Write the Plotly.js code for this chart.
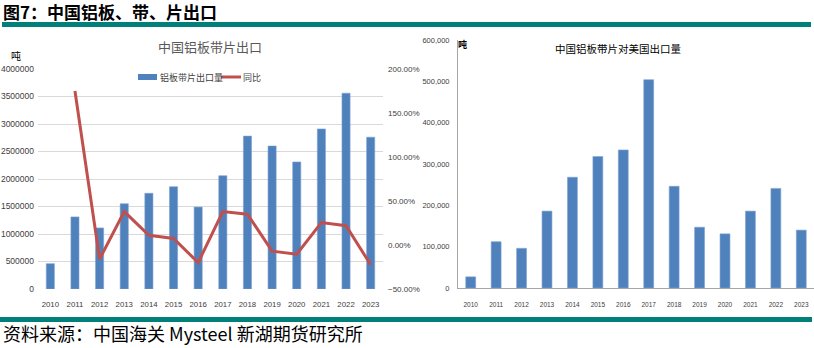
<!DOCTYPE html>
<html>
<head>
<meta charset="utf-8">
<script src="https://cdn.plot.ly/plotly-3.0.1.min.js"></script>
<style>
html,body{margin:0;padding:0;background:#fff;}
#chart{width:814px;height:348px;}
</style>
</head>
<body>
<div id="chart"></div>
<script>
// ---- data ----
const years = ['2010','2011','2012','2013','2014','2015','2016','2017','2018','2019','2020','2021','2022','2023'];
const exportVolume = [460000, 1310000, 1110000, 1550000, 1740000, 1860000, 1490000, 2060000, 2780000, 2600000, 2310000, 2910000, 3560000, 2760000];
const exportYoY = [null, 1.75, -0.16, 0.38, 0.11, 0.075, -0.20, 0.38, 0.35, -0.07, -0.105, 0.255, 0.22, -0.225];
const usExport = [27000, 112000, 96000, 186000, 268000, 318000, 334000, 504000, 246000, 147000, 131000, 186000, 241000, 140000];
const seriesNames = ['铝板带片出口量', '同比'];
const headerTitle = '图7：中国铝板、带、片出口';
const leftTitle = '中国铝板带片出口';
const rightTitle = '中国铝板带片对美国出口量';
const unitLabel = '吨';
const sourceText = '资料来源：中国海关 Mysteel 新湖期货研究所';

// ---- helpers ----
const W = 814, H = 348;
const px = x => x / W;
const py = y => (H - y) / H;
const CJK = '"Noto Sans CJK SC", "Noto Sans", sans-serif';
const NUM = '"Liberation Sans", Arial, sans-serif';
const BLUE = '#4F81BD', RED = '#C0504D', TEAL = '#007F7B', TXT = '#404040';

const traces = [
  {type:'bar', x:years, y:exportVolume, name:seriesNames[0], xaxis:'x', yaxis:'y',
   marker:{color:BLUE, line:{color:'#7FA3D1', width:0.6}}, width:0.33, showlegend:false},
  {type:'scatter', mode:'lines', x:years, y:exportYoY, name:seriesNames[1], xaxis:'x', yaxis:'y2',
   line:{color:RED, width:3}, connectgaps:false, showlegend:false},
  {type:'bar', x:years, y:usExport, name:'对美国出口量', xaxis:'x2', yaxis:'y3',
   marker:{color:BLUE, line:{color:'#7FA3D1', width:0.6}}, width:0.39, showlegend:false}
];

// legend drawn with shapes + text (Excel-style wide swatches)
const legendY = 77;
const legendShapes = [
  {type:'rect', xref:'paper', yref:'paper', x0:px(138), x1:px(157), y0:py(80), y1:py(74),
   fillcolor:BLUE, line:{width:0}},
  {type:'line', xref:'paper', yref:'paper', x0:px(221), x1:px(241), y0:py(legendY), y1:py(legendY),
   line:{color:RED, width:3}}
];
const legendText = [
  {text:seriesNames[0], xref:'paper', yref:'paper', x:px(158), y:py(legendY),
   xanchor:'left', yanchor:'middle', showarrow:false, font:{family:CJK, size:9, color:TXT}},
  {text:seriesNames[1], xref:'paper', yref:'paper', x:px(241), y:py(legendY),
   xanchor:'left', yanchor:'middle', showarrow:false, font:{family:CJK, size:9, color:TXT}}
];

const layout = {
  width:W, height:H,
  margin:{l:0, r:0, t:0, b:0},
  paper_bgcolor:'#fff', plot_bgcolor:'rgba(0,0,0,0)',
  bargap:0,
  showlegend:false,
  xaxis:{domain:[px(38), px(383)], anchor:'y', type:'category', tickangle:0,
         showgrid:false, zeroline:false, showline:false, ticks:'',
         tickfont:{family:NUM, size:7.8, color:TXT}, ticklabelstandoff:9},
  yaxis:{domain:[py(289), py(69)], anchor:'x', range:[0, 4000000], dtick:500000,
         tickformat:'d', showgrid:true, gridcolor:'#D9D9D9', gridwidth:1,
         zeroline:false, showline:false, ticks:'',
         tickfont:{family:NUM, size:8.5, color:TXT}, ticklabelstandoff:3},
  yaxis2:{overlaying:'y', side:'right', anchor:'x', range:[-0.5, 2.0], dtick:0.5,
          tickformat:'.2%', showgrid:false, zeroline:false, showline:false, ticks:'',
          tickfont:{family:NUM, size:8, color:TXT}, ticklabelstandoff:4},
  xaxis2:{domain:[px(458), 1], anchor:'y3', type:'category', tickangle:0,
          showgrid:false, zeroline:false, showline:true, linecolor:'#A6A6A6', linewidth:1, ticks:'',
          tickfont:{family:NUM, size:6.5, color:TXT}, ticklabelstandoff:10},
  yaxis3:{domain:[py(288), py(40)], anchor:'x2', range:[0, 600000], dtick:100000,
          tickformat:',d', showgrid:false, zeroline:false, showline:true, linecolor:'#A6A6A6', linewidth:1,
          ticks:'', tickfont:{family:NUM, size:7.5, color:TXT}, ticklabelstandoff:6},
  shapes:[
    {type:'rect', xref:'paper', yref:'paper', x0:px(2), x1:px(811), y0:py(27), y1:py(22),
     fillcolor:TEAL, line:{width:0}},
    {type:'rect', xref:'paper', yref:'paper', x0:px(0), x1:px(812), y0:py(322), y1:py(317),
     fillcolor:TEAL, line:{width:0}}
  ].concat(legendShapes),
  annotations:[
    {text:'<b>'+headerTitle+'</b>', xref:'paper', yref:'paper', x:px(1), y:py(11),
     xanchor:'left', yanchor:'middle', showarrow:false,
     font:{family:CJK, size:17, color:'#000'}},
    {text:leftTitle, xref:'paper', yref:'paper', x:px(210), y:py(46),
     xanchor:'center', yanchor:'middle', showarrow:false,
     font:{family:CJK, size:13, color:'#595959'}},
    {text:unitLabel, xref:'paper', yref:'paper', x:px(16), y:py(55),
     xanchor:'center', yanchor:'middle', showarrow:false,
     font:{family:CJK, size:10, color:'#000'}},
    {text:rightTitle, xref:'paper', yref:'paper', x:px(618), y:py(49),
     xanchor:'center', yanchor:'middle', showarrow:false,
     font:{family:CJK, size:10.5, color:'#000'}},
    {text:'<b>'+unitLabel+'</b>', xref:'paper', yref:'paper', x:px(462), y:py(45),
     xanchor:'center', yanchor:'middle', showarrow:false,
     font:{family:CJK, size:9, color:'#000'}},
    {text:sourceText, xref:'paper', yref:'paper', x:px(1), y:py(333),
     xanchor:'left', yanchor:'middle', showarrow:false,
     font:{family:CJK, size:18, color:'#000'}}
  ].concat(legendText)
};

Plotly.newPlot('chart', traces, layout, {displayModeBar:false, staticPlot:true});
</script>
</body>
</html>
